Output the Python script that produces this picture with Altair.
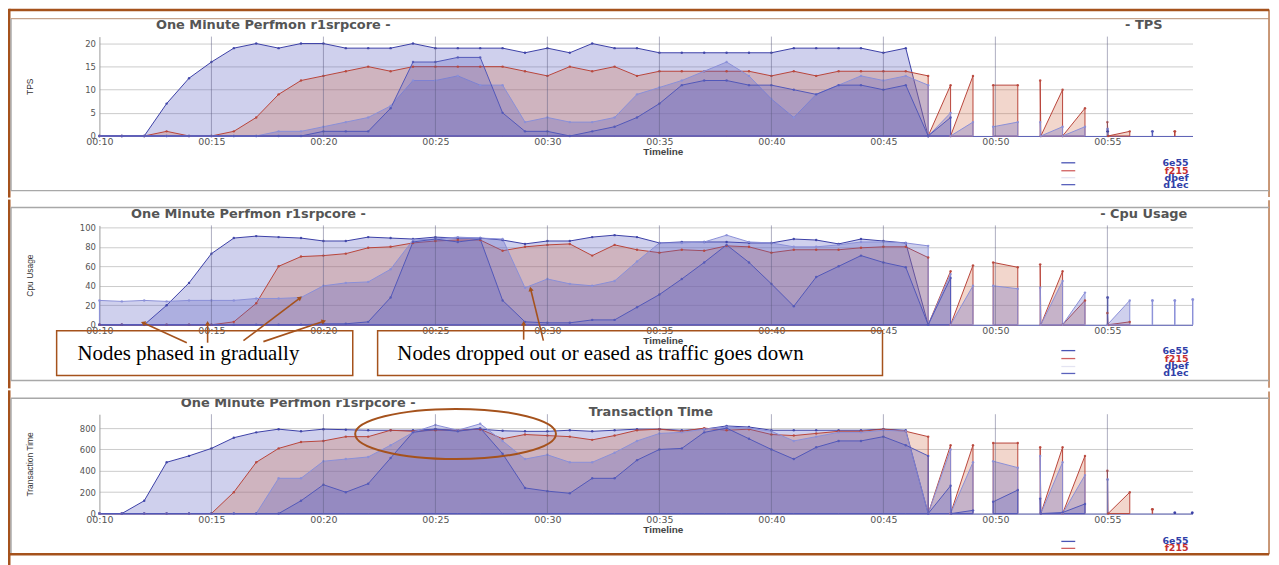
import math
import altair as alt
import pandas as pd

# ---------------- data ----------------
MINUTES = list(range(10, 48))          # main run, one sample per minute 00:10 .. 00:47
SERIES = ["6e55", "f215", "dbef", "d1ec"]
X_TICKS = [10, 15, 20, 25, 30, 35, 40, 45, 50, 55]
V_GRID = [15, 20, 25, 30, 35, 40, 45, 50, 55]
X_DOMAIN = [10, 58.8]

TPS_TICKS = [0, 5, 10, 15, 20]
CPU_TICKS = [0, 20, 40, 60, 80, 100]
TT_TICKS = [0, 200, 400, 600, 800]
TPS_DOMAIN = [0, 21.5]
CPU_DOMAIN = [0, 102]
TT_DOMAIN = [0, 930]

TPS_6E55 = [0, 0, 0, 7, 12.5, 16, 19, 20, 19, 20,
            20, 19, 19, 19, 20, 19, 19, 19, 19, 18,
            19, 18, 20, 19, 19, 18, 18, 18, 18, 18,
            18, 19, 19, 19, 19, 18, 19, 0]
TPS_F215 = [0, 0, 0, 1, 0, 0, 1, 4, 9, 12,
            13, 14, 15, 14, 15, 15, 15, 15, 15, 14,
            13, 15, 14, 15, 13, 14, 14, 14, 14, 14,
            13, 14, 13, 14, 14, 14, 14, 13]
TPS_DBEF = [0, 0, 0, 0, 0, 0, 0, 0, 1, 1,
            2, 3, 4, 6.5, 12, 12, 13, 11, 11, 3,
            4, 3, 3, 4, 9, 10.5, 12, 14, 16, 13,
            8, 4, 9, 11, 13, 12, 13, 11]
TPS_D1EC = [0, 0, 0, 0, 0, 0, 0, 0, 0, 0,
            1, 1, 1, 6, 16, 16, 17, 17, 5, 1,
            1, 0, 1, 2, 4, 7, 11, 12, 12, 11,
            11, 10, 9, 11, 11, 10, 11, 0]

CPU_6E55 = [0, 0, 0, 20, 43, 73, 89, 91, 90, 89,
            86, 86, 90, 89, 88, 90, 89, 89, 87, 83,
            86, 86, 90, 92, 90, 84, 85, 85, 85, 84,
            84, 88, 87, 83, 88, 86, 84, 0]
CPU_F215 = [0, 0, 0, 0, 0, 0, 3, 22, 60, 70,
            71, 73, 79, 80, 84, 86, 87, 87, 76, 80,
            82, 83, 71, 82, 77, 74, 77, 76, 81, 80,
            74, 77, 77, 77, 79, 80, 80, 69]
CPU_DBEF = [25, 24, 25, 24, 25, 25, 25, 27, 27, 28,
            40, 43, 44, 57, 87, 88, 90, 89, 88, 38,
            47, 42, 40, 45, 65, 84, 84, 85, 92, 85,
            84, 80, 80, 82, 85, 85, 84, 81]
CPU_D1EC = [0, 0, 0, 0, 0, 0, 0, 0, 0, 0,
            1, 1, 3, 28, 85, 88, 85, 88, 25, 3,
            2, 2, 5, 5, 18, 31, 47, 64, 82, 64,
            42, 19, 49, 60, 71, 64, 59, 0]

TT_6E55 = [0, 0, 120, 480, 540, 610, 710, 760, 790, 770,
           790, 785, 780, 780, 780, 790, 780, 790, 775, 770,
           770, 780, 770, 780, 790, 790, 780, 790, 820, 810,
           780, 780, 780, 780, 780, 790, 780, 0]
TT_F215 = [0, 0, 0, 0, 0, 0, 200, 480, 610, 670,
           680, 720, 720, 780, 770, 780, 780, 790, 700, 740,
           730, 720, 690, 730, 780, 790, 770, 800, 780, 790,
           740, 730, 750, 770, 770, 790, 770, 720]
TT_DBEF = [0, 0, 0, 0, 0, 0, 0, 0, 330, 330,
           490, 510, 530, 640, 760, 830, 780, 840, 680, 510,
           550, 480, 480, 570, 680, 750, 760, 790, 810, 800,
           770, 680, 720, 760, 760, 780, 770, 0]
TT_D1EC = [0, 0, 0, 0, 0, 0, 0, 0, 0, 120,
           270, 200, 280, 520, 760, 790, 770, 800, 560, 240,
           210, 190, 330, 330, 500, 600, 610, 760, 800, 700,
           600, 510, 620, 680, 680, 720, 640, 540]

# intermittent samples after 00:47, as separate runs of [minute, value]
TPS_TAIL_6E55 = [[[55, 1], [55.02, 1]]]
TPS_TAIL_F215 = [[[47, 0], [48, 11]], [[48, 0], [49, 13]], [[49.9, 11], [51, 11]],
                 [[52, 12], [52.03, 0], [53, 10]], [[53, 0], [54, 6]],
                 [[55, 3], [55.03, 0], [56, 1]], [[58, 1], [58.02, 1]]]
TPS_TAIL_DBEF = [[[47, 0], [48, 5]], [[48, 0], [49, 3]], [[49.9, 2], [51, 3]],
                 [[52, 3], [52.03, 0], [53, 2]], [[53, 0], [54, 2]], [[55, 1.5], [55.02, 1.5]]]
TPS_TAIL_D1EC = [[[47, 0], [48, 4]], [[57, 1], [57.02, 1]]]

CPU_TAIL_6E55 = []
CPU_TAIL_F215 = [[[47, 0], [48, 55]], [[48, 0], [49, 61]], [[49.9, 64], [51, 59]],
                 [[52, 62], [52.03, 0], [53, 55]], [[53, 0], [54, 25]],
                 [[55, 12], [55.03, 0], [56, 3]]]
CPU_TAIL_DBEF = [[[47, 0], [48, 52]], [[48, 0], [49, 40]], [[49.9, 40], [51, 37]],
                 [[52, 38], [52.03, 0], [53, 45]], [[53, 0], [54, 33]], [[55, 0], [56, 25]],
                 [[57, 25], [57.02, 25]], [[58, 25], [58.02, 25]], [[58.8, 26], [58.82, 26]]]
CPU_TAIL_D1EC = [[[47, 0], [48, 48]], [[55, 28], [55.02, 28]]]

TT_TAIL_6E55 = [[[58, 8], [58.02, 8]], [[58.78, 8], [58.8, 8]]]
TT_TAIL_F215 = [[[47, 0], [48, 640]], [[48, 0], [49, 640]], [[49.9, 660], [51, 660]],
                [[52, 620], [52.03, 0], [53, 620]], [[53, 0], [54, 540]],
                [[55, 400], [55.03, 0], [56, 200]], [[57, 40], [57.02, 40]]]
TT_TAIL_DBEF = [[[47, 0], [48, 600]], [[48, 0], [49, 480]], [[49.9, 490], [51, 430]],
                [[52, 540], [52.03, 0], [53, 480]], [[53, 0], [54, 360]], [[55, 320], [55.02, 320]]]
TT_TAIL_D1EC = [[[47, 0], [48, 260], [48.03, 0], [49, 30]], [[49.9, 110], [51, 220]],
                [[52, 140], [52.03, 0], [53, 10], [54, 90]]]

# annotations (in chart units: minutes / CPU %)
NOTE_TEXT = ["Nodes phased in gradually", "Nodes dropped out or eased as traffic goes down"]
NOTE_TEXT_T = [9.02, 23.3]
NOTE_TEXT_V = [-36.2, -36.2]
NOTE_BOX_T1 = [8.09, 22.42]
NOTE_BOX_T2 = [21.31, 44.96]
NOTE_BOX_V1 = [-6.1, -6.1]
NOTE_BOX_V2 = [-52.0, -52.0]
ARROW_T0 = [13.90, 14.83, 16.43, 17.32, 28.94, 29.82]
ARROW_V0 = [-18.4, -18.4, -16.3, -17.3, -15.3, -16.3]
ARROW_T1 = [11.95, 14.83, 18.96, 20.02, 28.94, 29.25]
ARROW_V1 = [2.0, 1.5, 27.6, 3.6, 1.5, 36.7]
ELLIPSE_T = [25.9]
ELLIPSE_V = [745]

LEGEND_LABELS = ["6e55", "f215", "dbef", "d1ec"]

# ---------------- style ----------------
W, H = 1100, 100
LINE = {"6e55": "#3b40a6", "f215": "#b8453a", "dbef": "#8a8fd8", "d1ec": "#5258b8"}
FILL = {"6e55": "#5f62c2", "f215": "#cf6a48", "dbef": "#5f62c2", "d1ec": "#5f62c2"}
FOP = {"6e55": 0.3, "f215": 0.28, "dbef": 0.3, "d1ec": 0.3}
LEG_TEXT = {"6e55": "#3040a8", "f215": "#c83030", "dbef": "#3040a8", "d1ec": "#3040a8"}
LEG_LINE = {"6e55": "#4a55b5", "f215": "#d06060", "dbef": "#e4e4f2", "d1ec": "#5a62bc"}
BROWN = "#a5521c"
GRAY = "#a8a8a8"
ELLIPSE_PATH = "M -1 0 A 1 0.25 0 1 1 1 0 A 1 0.25 0 1 1 -1 0 Z"

ONE = pd.DataFrame({"k": [0]})


def series_frame(main, tails):
    rows = [{"t": t, "v": v, "seg": 0} for t, v in zip(MINUTES, main)]
    for i, seg in enumerate(tails, start=1):
        rows += [{"t": p[0], "v": p[1], "seg": i} for p in seg]
    return pd.DataFrame(rows)


def hrule(x1, x2, y, color, sw, cap="butt"):
    return alt.Chart(ONE).mark_rule(color=color, strokeWidth=sw, strokeCap=cap).encode(
        x=alt.value(x1), x2=alt.value(x2), y=alt.value(y))


def vrule(x, y1, y2, color, sw, cap="butt"):
    return alt.Chart(ONE).mark_rule(color=color, strokeWidth=sw, strokeCap=cap).encode(
        x=alt.value(x), y=alt.value(y1), y2=alt.value(y2))


def label(txt, x, y, align="center", size=13, color="#555555", font="DejaVu Sans", weight="bold"):
    return alt.Chart(ONE).mark_text(text=txt, align=align, baseline="middle", font=font,
                                    fontSize=size, fontWeight=weight, color=color).encode(
        x=alt.value(x), y=alt.value(y))


def make_panel(cfg):
    xs = alt.Scale(domain=X_DOMAIN, nice=False, zero=False)
    ys = alt.Scale(domain=cfg["ydomain"], nice=False, zero=False)
    xax = alt.Axis(values=X_TICKS, labelExpr="'00:' + datum.value", grid=False, ticks=False,
                   domainColor="#5a5fb5", domainWidth=1, labelFont="DejaVu Sans", labelFontSize=9.5,
                   labelColor="#555555", labelPadding=1, labelFlush=False,
                   title="Timeline", titleX=567, titleY=16, titleAlign="center", titleBaseline="middle",
                   titleFont="Liberation Sans", titleFontSize=10, titleFontWeight="bold",
                   titleColor="#444444")
    yax = alt.Axis(values=cfg["yticks"], grid=True, gridColor="#cccccc", ticks=False,
                   domainColor="#9a9a9a", labelFont="DejaVu Sans", labelFontSize=8.5,
                   labelColor="#555555", labelPadding=4,
                   title=cfg["ytitle"], titleX=-70, titleY=50, titleAngle=270, titleAlign="center",
                   titleBaseline="middle", titleFont="Liberation Sans", titleFontSize=8.5,
                   titleFontWeight="normal", titleColor="#333333")

    def X(f):
        return alt.X(f, type="quantitative", scale=xs, axis=xax)

    def Y(f, **kw):
        return alt.Y(f, type="quantitative", scale=ys, axis=yax, **kw)

    layers = []
    frames = {s: series_frame(cfg["main"][s], cfg["tails"][s]) for s in SERIES}
    for s in SERIES:
        layers.append(alt.Chart(frames[s]).mark_area(
            fill=FILL[s], fillOpacity=FOP[s], stroke=LINE[s], strokeWidth=1, strokeJoin="round"
        ).encode(x=X("t"), y=Y("v", stack=None), detail="seg:N"))
    for s in SERIES:
        layers.append(alt.Chart(frames[s]).mark_circle(size=6, color=LINE[s], opacity=0.9).encode(
            x=X("t"), y=Y("v")))
    layers.append(alt.Chart(pd.DataFrame({"t": V_GRID})).mark_rule(
        color="#5c5c80", strokeWidth=1, opacity=0.5).encode(x=X("t"), y=alt.value(0), y2=alt.value(H)))

    if cfg.get("notes"):
        boxes = pd.DataFrame({"t1": NOTE_BOX_T1, "t2": NOTE_BOX_T2, "v1": NOTE_BOX_V1, "v2": NOTE_BOX_V2})
        layers.append(alt.Chart(boxes).mark_rect(fillOpacity=0, stroke=BROWN, strokeWidth=1.5).encode(
            x=X("t1"), x2="t2", y=Y("v1"), y2="v2"))
        notes = pd.DataFrame({"t": NOTE_TEXT_T, "v": NOTE_TEXT_V, "label": NOTE_TEXT})
        layers.append(alt.Chart(notes).mark_text(align="left", baseline="alphabetic",
                                                 font="Liberation Serif", fontSize=21, color="#000000").encode(
            x=X("t"), y=Y("v"), text="label:N"))
        ppm = W / (X_DOMAIN[1] - X_DOMAIN[0])
        ppv = H / (cfg["ydomain"][1] - cfg["ydomain"][0])
        ang = []
        for t0, v0, t1, v1 in zip(ARROW_T0, ARROW_V0, ARROW_T1, ARROW_V1):
            dx = (t1 - t0) * ppm
            dy = -(v1 - v0) * ppv
            ang.append(math.degrees(math.atan2(dx, -dy)) % 360)
        arrows = pd.DataFrame({"t0": ARROW_T0, "v0": ARROW_V0, "t1": ARROW_T1, "v1": ARROW_V1, "ang": ang})
        layers.append(alt.Chart(arrows).mark_rule(color=BROWN, strokeWidth=1.6).encode(
            x=X("t0"), x2="t1", y=Y("v0"), y2="v1"))
        layers.append(alt.Chart(arrows).mark_point(shape="triangle-up", filled=True, size=28,
                                                   color=BROWN, opacity=1).encode(
            x=X("t1"), y=Y("v1"), angle=alt.Angle("ang:Q", scale=None)))

    if cfg.get("ellipse"):
        ell = pd.DataFrame({"t": ELLIPSE_T, "v": ELLIPSE_V})
        layers.append(alt.Chart(ell).mark_point(shape=ELLIPSE_PATH, size=202 * 202, filled=False,
                                                color=BROWN, strokeWidth=2, opacity=1).encode(
            x=X("t"), y=Y("v")))

    for txt, x, y in cfg["titles"]:
        layers.append(label(txt, x, y))

    for i, lab in enumerate(LEGEND_LABELS[:cfg["legend_n"]]):
        y = cfg["legend_y"][i]
        layers.append(hrule(968, 982, y, LEG_LINE[lab], 1.3))
        layers.append(label(lab, 1096, y, align="right", size=9.5, color=LEG_TEXT[lab]))

    for f in cfg["frame"]:
        if f[0] == "h":
            layers.append(hrule(*f[1:]))
        else:
            layers.append(vrule(*f[1:]))

    return alt.layer(*layers).properties(width=W, height=H)


P1 = dict(
    main={"6e55": TPS_6E55, "f215": TPS_F215, "dbef": TPS_DBEF, "d1ec": TPS_D1EC},
    tails={"6e55": TPS_TAIL_6E55, "f215": TPS_TAIL_F215, "dbef": TPS_TAIL_DBEF, "d1ec": TPS_TAIL_D1EC},
    ydomain=TPS_DOMAIN, yticks=TPS_TICKS, ytitle="TPS",
    titles=[("One Minute Perfmon r1srpcore -", 175, -12), ("- TPS", 1051, -12)],
    legend_n=4, legend_y=[127, 135, 142, 149],
    frame=[("h", -90.75, 1177, -26.75, BROWN, 2.5),
           ("v", -90.75, -26.75, 160.75, BROWN, 2.5, "square"),
           ("v", 1177, -26.75, 160.75, BROWN, 1.2, "square"),
           ("h", -89, 1177, -18, "#b58a6e", 1),
           ("v", -89, -18, 155, GRAY, 1.5),
           ("h", -89, 1177, 155, GRAY, 1.5)],
)
P2 = dict(
    main={"6e55": CPU_6E55, "f215": CPU_F215, "dbef": CPU_DBEF, "d1ec": CPU_D1EC},
    tails={"6e55": CPU_TAIL_6E55, "f215": CPU_TAIL_F215, "dbef": CPU_TAIL_DBEF, "d1ec": CPU_TAIL_D1EC},
    ydomain=CPU_DOMAIN, yticks=CPU_TICKS, ytitle="Cpu Usage",
    titles=[("One Minute Perfmon r1srpcore -", 150, -11), ("- Cpu Usage", 1051, -11)],
    legend_n=4, legend_y=[126, 134, 142, 149], notes=True,
    frame=[("v", -90.75, -24.75, 162.75, BROWN, 2.5, "square"),
           ("v", 1177, -24.75, 162.75, BROWN, 1.2, "square"),
           ("h", -89, 1177, -18, GRAY, 1.5),
           ("h", -89, 1177, 156, GRAY, 1.5),
           ("v", -89, -18, 156, GRAY, 1.5)],
)
P3 = dict(
    main={"6e55": TT_6E55, "f215": TT_F215, "dbef": TT_DBEF, "d1ec": TT_D1EC},
    tails={"6e55": TT_TAIL_6E55, "f215": TT_TAIL_F215, "dbef": TT_TAIL_DBEF, "d1ec": TT_TAIL_D1EC},
    ydomain=TT_DOMAIN, yticks=TT_TICKS, ytitle="Transaction Time",
    titles=[("One Minute Perfmon r1srpcore -", 200, -11), ("Transaction Time", 555, -2)],
    legend_n=2, legend_y=[128, 135], ellipse=True,
    frame=[("v", -90.75, -22.75, 153, BROWN, 2.5, "square"),
           ("v", 1177, -22.75, 141, BROWN, 1.2),
           ("h", -89, 1177, -16, GRAY, 1.5),
           ("v", -89, -16, 141, GRAY, 1.5),
           ("h", -90.75, 1177, 141, BROWN, 2.5)],
)

chart = alt.vconcat(make_panel(P1), make_panel(P2), make_panel(P3), spacing=0).properties(
    padding={"left": -1, "top": -2, "right": 0, "bottom": 0}, background="white"
).configure_view(stroke=None)

chart.save("out.html", embed_options={"renderer": "svg", "actions": False})
